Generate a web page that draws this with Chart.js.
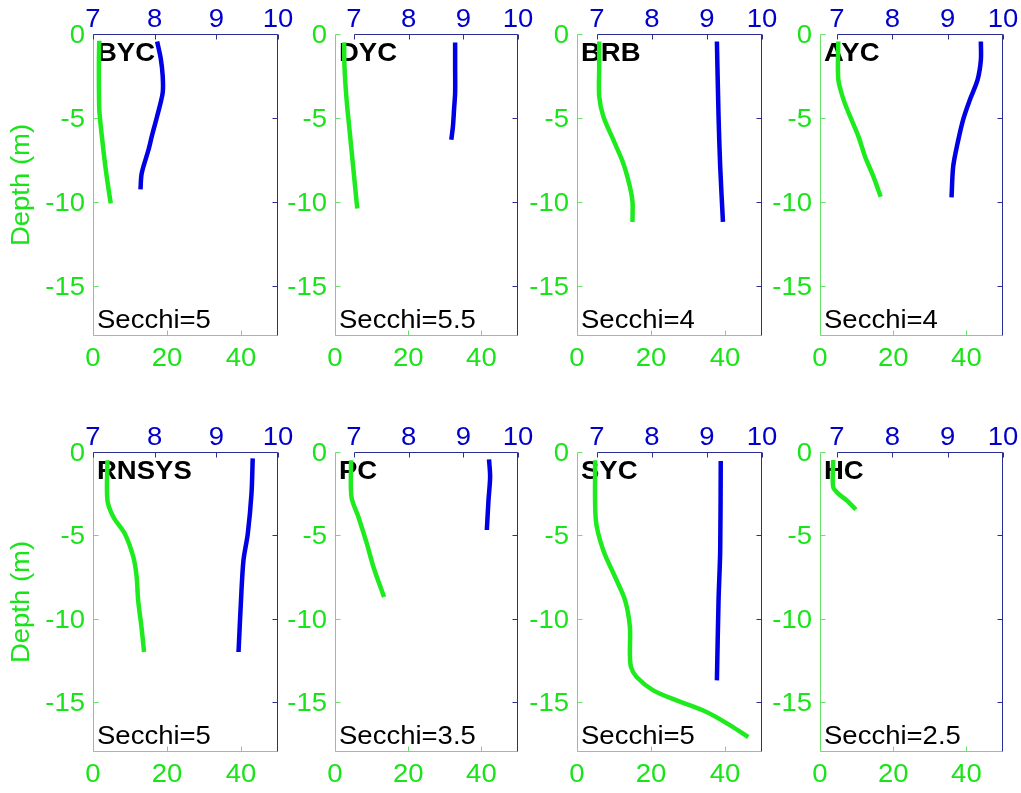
<!DOCTYPE html>
<html>
<head>
<meta charset="utf-8">
<script src="https://cdn.jsdelivr.net/npm/chart.js@4.4.1/dist/chart.umd.min.js"></script>
<style>
  html, body { margin: 0; padding: 0; background: #fff; }
  #wrap { position: relative; width: 1021px; height: 793px; overflow: hidden; background: #fff; }
  #wrap canvas { position: absolute; left: 0; top: 0; }
</style>
</head>
<body>
<div id="wrap"></div>
<script>
// ---- Station profiles: depth (m, negative down) vs. bottom-axis (0-50) and top-axis (7-10) readings ----
const siteNames = ['BYC', 'DYC', 'BRB', 'AYC', 'RNSYS', 'PC', 'SYC', 'HC'];
const secchiDepths = ['5', '5.5', '4', '4', '5', '3.5', '5', '2.5'];

const depthTicks = [0, -5, -10, -15];
const bottomTicks = [0, 20, 40];
const topTicks = [7, 8, 9, 10];
const depthLabel = 'Depth (m)';

const bycBottomDepth = [-0.4, -1.5, -3, -4.5, -5.5, -6.9, -8, -9.1, -10.1];
const bycBottom      = [1.7, 1.6, 1.6, 1.7, 2.1, 2.8, 3.4, 4.1, 4.8];
const bycTopDepth    = [-0.45, -1.5, -2.5, -3.5, -4.9, -6, -6.9, -8.3, -9.26];
const bycTop         = [8.04, 8.10, 8.13, 8.13, 8.04, 7.96, 7.90, 7.79, 7.77];

const dycBottomDepth = [-0.5, -2, -4, -6, -8, -10, -10.4];
const dycBottom      = [2.5, 2.6, 3.2, 4.1, 5.0, 5.9, 6.1];
const dycTopDepth    = [-0.5, -2, -3.5, -4.5, -5.5, -6.3];
const dycTop         = [8.85, 8.85, 8.85, 8.83, 8.81, 8.78];

const brbBottomDepth = [-0.45, -2, -3.7, -4.9, -6.3, -7.7, -9.1, -10, -11.2];
const brbBottom      = [6.0, 6.0, 6.0, 7.1, 9.8, 12.5, 14.3, 15.0, 15.0];
const brbTopDepth    = [-0.45, -4.9, -7.9, -11.2];
const brbTop         = [9.18, 9.21, 9.24, 9.29];

const aycBottomDepth = [-0.45, -2.7, -3.9, -4.9, -6.1, -7.3, -8.5, -9.7];
const aycBottom      = [5.0, 5.0, 6.4, 8.2, 10.5, 12.3, 14.6, 16.6];
const aycTopDepth    = [-0.45, -1.55, -2.74, -3.93, -5.1, -6.5, -7.9, -9.74];
const aycTop         = [9.60, 9.60, 9.54, 9.40, 9.28, 9.18, 9.10, 9.07];

const rnsysBottomDepth = [-0.5, -2.9, -3.9, -4.9, -6.3, -7.5, -8.9, -10.5, -12];
const rnsysBottom      = [3.9, 3.9, 5.5, 8.6, 10.9, 11.8, 12.2, 13.1, 13.8];
const rnsysTopDepth    = [-0.38, -2.5, -4.9, -6.5, -8.9, -12];
const rnsysTop         = [9.59, 9.57, 9.51, 9.44, 9.40, 9.36];

const pcBottomDepth = [-0.5, -2.7, -3.9, -5.5, -6.9, -8.7];
const pcBottom      = [4.4, 4.5, 6.4, 8.7, 10.5, 13.4];
const pcTopDepth    = [-0.44, -1.5, -2.9, -4.68];
const pcTop         = [9.47, 9.49, 9.46, 9.43];

const sycBottomDepth = [-0.5, -4.1, -5.9, -7.5, -8.9, -10.5, -12.1, -12.9, -13.5, -14.3, -14.9, -15.6, -16.4, -17.1];
const sycBottom      = [4.9, 5.1, 7.1, 10.3, 13.0, 14.3, 14.3, 14.6, 16.1, 20.6, 26.9, 35.0, 41.4, 46.3];
const sycTopDepth    = [-0.54, -5.9, -8.9, -13.7];
const sycTop         = [9.25, 9.24, 9.21, 9.18];

const hcBottomDepth = [-0.48, -2.1, -2.5, -2.9, -3.45];
const hcBottom      = [3.6, 3.6, 5.0, 7.3, 9.8];
const hcTopDepth    = [];
const hcTop         = [];

const profiles = [
  { bottomDepth: bycBottomDepth,   bottom: bycBottom,   topDepth: bycTopDepth,   top: bycTop },
  { bottomDepth: dycBottomDepth,   bottom: dycBottom,   topDepth: dycTopDepth,   top: dycTop },
  { bottomDepth: brbBottomDepth,   bottom: brbBottom,   topDepth: brbTopDepth,   top: brbTop },
  { bottomDepth: aycBottomDepth,   bottom: aycBottom,   topDepth: aycTopDepth,   top: aycTop },
  { bottomDepth: rnsysBottomDepth, bottom: rnsysBottom, topDepth: rnsysTopDepth, top: rnsysTop },
  { bottomDepth: pcBottomDepth,    bottom: pcBottom,    topDepth: pcTopDepth,    top: pcTop },
  { bottomDepth: sycBottomDepth,   bottom: sycBottom,   topDepth: sycTopDepth,   top: sycTop },
  { bottomDepth: hcBottomDepth,    bottom: hcBottom,    topDepth: hcTopDepth,    top: hcTop }
];

// ---- Panel frame geometry (page pixels) ----
const PAGE_W = 1021, PAGE_H = 793;
const colGreenLeft = [93, 335, 577, 820];
const colBlueLeft  = [93, 354, 597, 837];
const colRight     = [278, 518, 762, 1003];
const rowTop       = [34, 452];
const rowBottom    = [336, 752];

// ---- Styles ----
const GREEN_LINE = 'rgb(30,235,30)';
const GREEN_TEXT = 'rgb(25,228,25)';
const GREEN_AXIS = 'rgb(105,225,105)';
const BLUE_LINE  = 'rgb(0,0,228)';
const BLUE_TEXT  = 'rgb(0,0,200)';
const BLUE_AXIS  = 'rgb(45,45,150)';
const FONT_FAMILY = '"Liberation Sans", Arial, Helvetica, sans-serif';
const TICK_FONT = '25px ' + FONT_FAMILY;
const NAME_FONT = 'bold 25px ' + FONT_FAMILY;
const TEXT_STRETCH = 1.1;
const TICK_LEN = 5;

function drawText(ctx, str, x, y, align, baseline, font, color, rotation) {
  ctx.save();
  ctx.translate(x, y);
  if (rotation) ctx.rotate(rotation);
  ctx.scale(TEXT_STRETCH, 1);
  ctx.font = font;
  ctx.fillStyle = color;
  ctx.textAlign = align;
  ctx.textBaseline = baseline;
  ctx.fillText(str, 0, 0);
  ctx.restore();
}

// Draws the two overlaid axis boxes, inward ticks, tick labels and panel captions.
const panelFrame = {
  id: 'panelFrame',
  beforeDatasetsDraw(chart, args, opts) {
    const ctx = chart.ctx;
    const a = chart.chartArea;
    const xg = chart.scales.xg, xb = chart.scales.xb, y = chart.scales.y;
    const L = Math.round(a.left) + 0.5;
    const R = Math.round(a.right) - 0.5;
    const T = Math.round(a.top) + 0.5;
    const B = Math.round(a.bottom) - 0.5;
    const BL = Math.round(xb.getPixelForValue(7)) + 0.5;

    ctx.save();
    ctx.lineWidth = 1;

    // bottom/left (green) axes
    ctx.strokeStyle = GREEN_AXIS;
    ctx.beginPath();
    ctx.moveTo(L, T); ctx.lineTo(L, B); ctx.lineTo(R, B);
    depthTicks.forEach(v => {
      const py = Math.round(y.getPixelForValue(v)) + 0.5;
      ctx.moveTo(L, py); ctx.lineTo(L + TICK_LEN, py);
    });
    bottomTicks.forEach(v => {
      const px = Math.round(xg.getPixelForValue(v)) + 0.5;
      ctx.moveTo(px, B); ctx.lineTo(px, B - TICK_LEN);
    });
    ctx.stroke();

    // top/right (blue) axes
    ctx.strokeStyle = BLUE_AXIS;
    ctx.beginPath();
    ctx.moveTo(BL, T); ctx.lineTo(R, T); ctx.lineTo(R, B);
    depthTicks.forEach(v => {
      const py = Math.round(y.getPixelForValue(v)) + 0.5;
      ctx.moveTo(R, py); ctx.lineTo(R - TICK_LEN, py);
    });
    topTicks.forEach(v => {
      const px = Math.round(xb.getPixelForValue(v)) + 0.5;
      ctx.moveTo(px, T); ctx.lineTo(px, T + TICK_LEN);
    });
    ctx.stroke();
    ctx.restore();

    // tick labels
    depthTicks.forEach(v => {
      drawText(ctx, String(v), a.left - 8, y.getPixelForValue(v) + 9, 'right', 'alphabetic', TICK_FONT, GREEN_TEXT);
    });
    bottomTicks.forEach(v => {
      drawText(ctx, String(v), xg.getPixelForValue(v), a.bottom + 30, 'center', 'alphabetic', TICK_FONT, GREEN_TEXT);
    });
    topTicks.forEach(v => {
      drawText(ctx, String(v), xb.getPixelForValue(v), a.top - 7, 'center', 'alphabetic', TICK_FONT, BLUE_TEXT);
    });

    // captions
    drawText(ctx, opts.name, a.left + 4, a.top + 27, 'left', 'alphabetic', NAME_FONT, '#000');
    drawText(ctx, 'Secchi=' + opts.secchi, a.left + 4, a.bottom - 8, 'left', 'alphabetic', TICK_FONT, '#000');

    if (opts.showDepthLabel) {
      drawText(ctx, depthLabel, 22, (a.top + a.bottom) / 2, 'center', 'middle', TICK_FONT, GREEN_TEXT, -Math.PI / 2);
    }
  }
};

const wrap = document.getElementById('wrap');

profiles.forEach((p, i) => {
  const col = i % 4, row = Math.floor(i / 4);
  const gl = colGreenLeft[col], bl = colBlueLeft[col], r = colRight[col];
  const top = rowTop[row], bottom = rowBottom[row];
  const offset = bl - gl;
  const topAxisMin = 7 - 3 * offset / ((r - gl) - offset);

  const canvas = document.createElement('canvas');
  canvas.width = PAGE_W; canvas.height = PAGE_H;
  canvas.style.width = PAGE_W + 'px'; canvas.style.height = PAGE_H + 'px';
  wrap.appendChild(canvas);

  new Chart(canvas, {
    type: 'scatter',
    data: {
      datasets: [
        {
          data: p.bottomDepth.map((d, k) => ({ x: p.bottom[k], y: d })),
          xAxisID: 'xg', yAxisID: 'y',
          showLine: true, pointRadius: 0, borderColor: GREEN_LINE, borderWidth: 4.5,
          tension: 0.3, borderJoinStyle: 'round', fill: false
        },
        {
          data: p.topDepth.map((d, k) => ({ x: p.top[k], y: d })),
          xAxisID: 'xb', yAxisID: 'y',
          showLine: true, pointRadius: 0, borderColor: BLUE_LINE, borderWidth: 4.5,
          tension: 0.3, borderJoinStyle: 'round', fill: false
        }
      ]
    },
    options: {
      responsive: false,
      animation: false,
      events: [],
      layout: { padding: { left: gl, top: top, right: PAGE_W - r, bottom: PAGE_H - bottom } },
      plugins: {
        legend: { display: false },
        tooltip: { enabled: false },
        panelFrame: { name: siteNames[i], secchi: secchiDepths[i], showDepthLabel: col === 0 }
      },
      scales: {
        xg: { type: 'linear', position: 'bottom', min: 0, max: 50, display: false },
        xb: { type: 'linear', position: 'top', min: topAxisMin, max: 10, display: false },
        y:  { type: 'linear', position: 'left', min: -18, max: 0, display: false }
      }
    },
    plugins: [panelFrame]
  });
});
</script>
</body>
</html>
